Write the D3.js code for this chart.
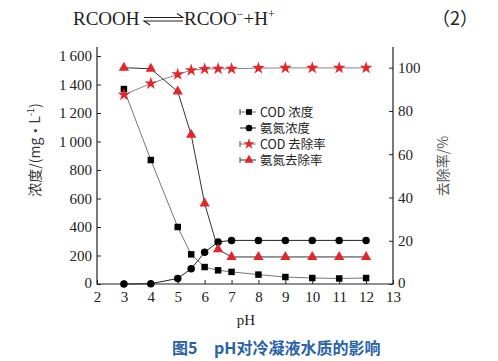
<!DOCTYPE html>
<html><head><meta charset="utf-8">
<script src="https://cdn.jsdelivr.net/npm/d3@7/dist/d3.min.js"></script>
<style>body{margin:0;background:#fff}svg{display:block}</style>
</head><body>
<svg id="c" width="498" height="361"></svg>
<script>
const pH = [3, 4, 5, 5.5, 6, 6.5, 7, 8, 9, 10, 11, 12];
const codConc = [1368, 870, 400, 208, 119, 96, 85, 66, 49, 42, 39, 42];
const nh3Conc = [0, 2, 39, 107, 222, 295, 306, 306, 306, 306, 306, 306];
const codRemoval = [87.5, 92.7, 96.9, 98.8, 99.4, 99.5, 99.5, 99.8, 99.9, 99.9, 99.9, 99.9];
const nh3Removal = [100, 99.5, 89.0, 69.0, 37.2, 16.0, 12.5, 12.5, 12.5, 12.5, 12.5, 12.5];
const xTicks = [2, 3, 4, 5, 6, 7, 8, 9, 10, 11, 12, 13];
const yLeftTicks = [0, 200, 400, 600, 800, 1000, 1200, 1400, 1600];
const yRightTicks = [0, 20, 40, 60, 80, 100];
const legendNames = ["COD 浓度", "氨氮浓度", "COD 去除率", "氨氮去除率"];

const svg = d3.select("#c");
const L = 97, R = 393, B = 284, T = 47;
const x = d3.scaleLinear().domain([2, 13]).range([L, R]);
const yL = d3.scaleLinear().domain([0, 1600]).range([B, 56]);
const yR = d3.scaleLinear().domain([0, 100]).range([B, 67.7]);
const serif = "'Liberation Serif','Times New Roman',serif";
const cjk = "'Noto Sans CJK SC',sans-serif";
const red = "#e3262c";

// header equation
const hdr = svg.append("g").attr("font-family", serif).attr("font-size", 19).attr("fill", "#222");
hdr.append("text").attr("x", 73).attr("y", 25).text("RCOOH");
hdr.append("path").attr("d", "M144,17.5 H183 l-6,-4").attr("fill","none").attr("stroke","#222").attr("stroke-width",1.1);
hdr.append("path").attr("d", "M183,21 H144 l6,4").attr("fill","none").attr("stroke","#222").attr("stroke-width",1.1);
const eq2 = hdr.append("text").attr("x", 184).attr("y", 25);
eq2.append("tspan").text("RCOO");
eq2.append("tspan").attr("font-size", 12).attr("dy", -7).text("−");
eq2.append("tspan").attr("dy", 7).text("+H");
eq2.append("tspan").attr("font-size", 12).attr("dy", -7).text("+");
hdr.append("text").attr("x", 432).attr("y", 25).attr("font-family", cjk).attr("font-size", 18).text("（2）");

// axes
const axStyle = g => {
  g.selectAll("path.domain").remove();
  g.selectAll("line").attr("stroke", "#222");
  g.selectAll("text").attr("font-family", serif).attr("font-size", 15).attr("fill", "#222");
};
const gx = svg.append("g").attr("transform", `translate(0,${B})`)
  .call(d3.axisBottom(x).tickValues(xTicks).tickSize(-4).tickPadding(7).tickFormat(d3.format("d")));
axStyle(gx);
gx.selectAll("text").attr("dy", "0.71em");

const fmtL = d => d >= 1000 ? Math.floor(d/1000) + "\u2009" + String(d%1000).padStart(3,"0") : String(d);
const gyl = svg.append("g").attr("transform", `translate(${L},0)`)
  .call(d3.axisLeft(yL).tickValues(yLeftTicks).tickSize(-4).tickPadding(5).tickFormat(fmtL));
axStyle(gyl);
const gyr = svg.append("g").attr("transform", `translate(${R},0)`)
  .call(d3.axisRight(yR).tickValues(yRightTicks).tickSize(-4).tickPadding(5).tickFormat(d3.format("d")));
axStyle(gyr);
gyr.selectAll(".tick").filter(d => d === 0).select("text").attr("dy", "0.2em");
gyl.selectAll(".tick").filter(d => d === 0).select("text").attr("dy", "0.2em");

// frame lines
svg.append("path").attr("d", `M${L},${T} V${B} H${R} V${T}`).attr("fill", "none").attr("stroke", "#222").attr("stroke-width", 1.2);

// axis titles
const yt = svg.append("text").attr("transform", `translate(40,150) rotate(-90)`).attr("text-anchor", "middle")
  .attr("font-family", cjk).attr("font-size", 14).attr("fill", "#333");
yt.append("tspan").text("浓度/(mg·L");
yt.append("tspan").attr("font-size", 9).attr("dy", -6).text("-1");
yt.append("tspan").attr("dy", 6).text(")");
svg.append("text").attr("transform", `translate(448,166) rotate(-90)`).attr("text-anchor", "middle")
  .attr("font-family", cjk).attr("font-size", 14).attr("fill", "#555")
  .text("去除率/%");
svg.append("text").attr("x", 246).attr("y", 325).attr("text-anchor", "middle")
  .attr("font-family", serif).attr("font-size", 15).attr("fill", "#222").text("pH");

// caption
const cap = svg.append("text").attr("y", 354).attr("font-family", cjk)
  .attr("font-size", 16).attr("font-weight", "bold").attr("fill", "#2a62a8");
cap.append("tspan").attr("x", 172).text("图5");
cap.append("tspan").attr("x", 214).text("pH对冷凝液水质的影响");

// series
const series = [
  {vals: codConc, y: yL, sym: d3.symbolSquare, size: 42, fill: "#000", line: "#666", lw: 0.9},
  {vals: nh3Conc, y: yL, sym: d3.symbolCircle, size: 44, fill: "#000", line: "#222", lw: 1},
  {vals: codRemoval, y: yR, sym: d3.symbolStar, size: 50, fill: red, line: "#777", lw: 0.9},
  {vals: nh3Removal, y: yR, sym: d3.symbolTriangle, size: 46, fill: red, line: "#333", lw: 1}
];
series.forEach(s => {
  const line = d3.line().x((d, i) => x(pH[i])).y(d => s.y(d));
  svg.append("path").datum(s.vals).attr("d", line).attr("fill", "none")
    .attr("stroke", s.line).attr("stroke-width", s.lw);
});
series.forEach(s => {
  svg.append("g").selectAll("path").data(s.vals).join("path")
    .attr("transform", (d, i) => `translate(${x(pH[i])},${s.y(d)})`)
    .attr("d", d3.symbol().type(s.sym).size(s.size)).attr("fill", s.fill);
});

// legend
const lg = svg.append("g");
lg.append("rect").attr("x", 236).attr("y", 103).attr("width", 100).attr("height", 64).attr("fill", "#fff");
legendNames.forEach((name, i) => {
  const s = series[i];
  const yy = 112 + i * 16;
  lg.append("line").attr("x1", 240).attr("x2", 256).attr("y1", yy).attr("y2", yy).attr("stroke", s.line).attr("stroke-width", s.lw);
  if (i !== 1) lg.append("line").attr("x1", 240).attr("x2", 240).attr("y1", yy - 3).attr("y2", yy + 3).attr("stroke", "#444");
  lg.append("path").attr("transform", `translate(249,${yy})`).attr("d", d3.symbol().type(s.sym).size(s.size * 0.8)).attr("fill", s.fill);
  lg.append("text").attr("x", 260).attr("y", yy + 4.5).attr("font-family", cjk)
    .attr("font-size", 12.5).attr("fill", "#222").text(name);
});
</script>
</body></html>
